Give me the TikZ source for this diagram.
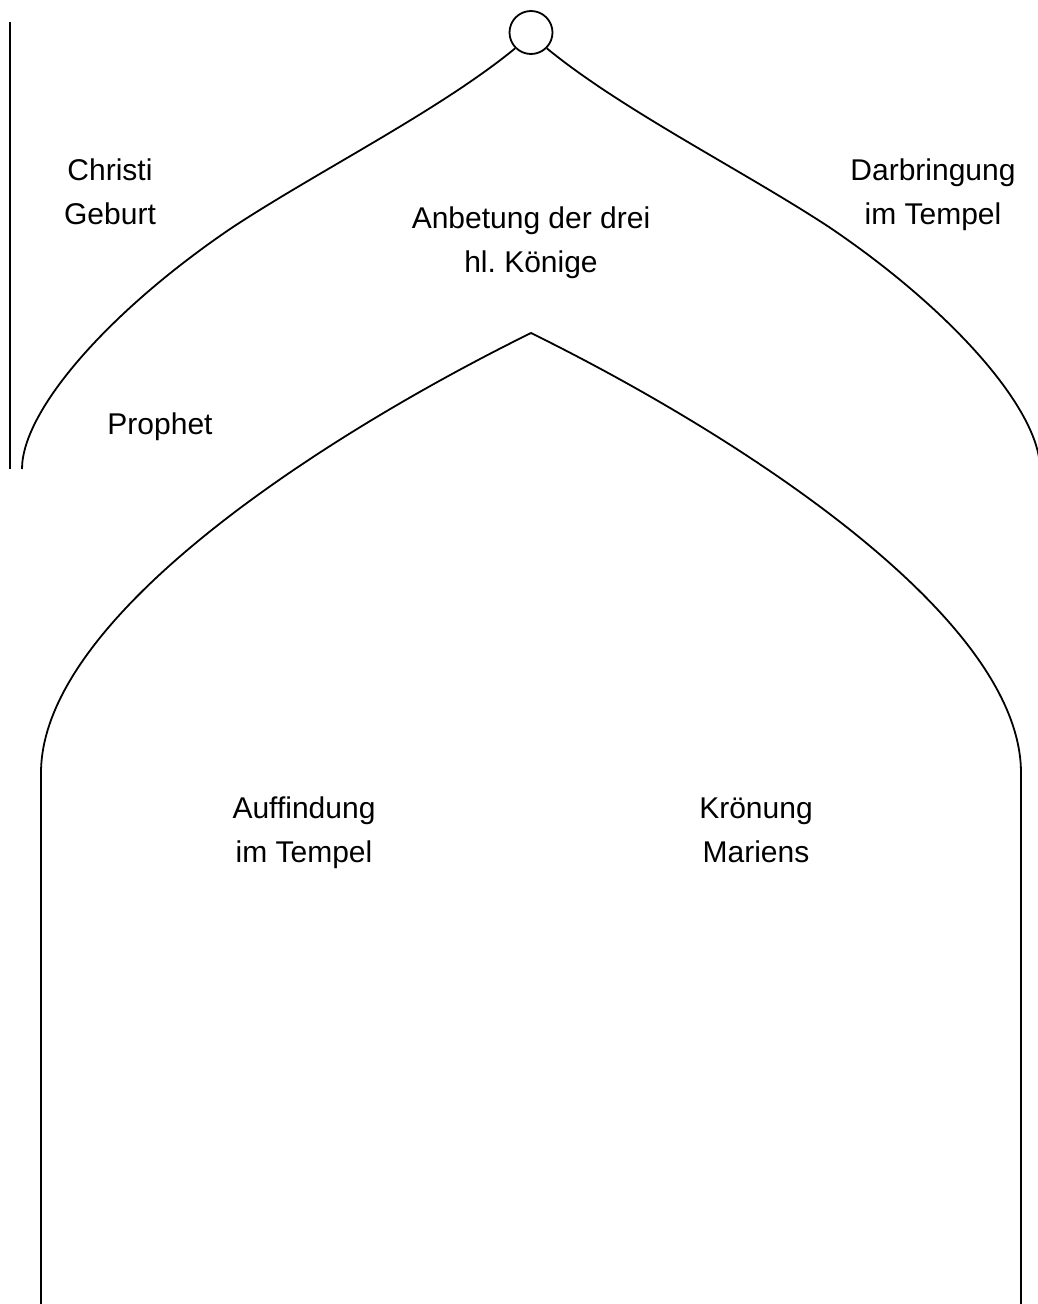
\documentclass[tikz,border=0pt]{standalone}
\usepackage{fontspec}
\setmainfont{Liberation Sans}
\usepackage{tikz}

\begin{document}
\begin{tikzpicture}[x=1pt,y=-1pt,line width=1.8pt,
  lbl/.style={align=center,inner sep=0pt,font=\fontsize{30}{44}\selectfont}]
  \useasboundingbox (0,0) rectangle (1037,1304);
  \node[draw,circle,minimum size=43pt,inner sep=0pt] (knob) at (531,32.5) {};
  \coordinate (ol) at (22,469);
  \coordinate (or) at (1040,469);
  \coordinate (apex) at (531,333);
  \coordinate (il) at (41,773);
  \coordinate (ir) at (1021,773);
  \coordinate (ilb) at (41,1304);
  \coordinate (irb) at (1021,1304);
  \coordinate (rt) at (10,22);
  \coordinate (rb) at (10,469);
  \draw (rt) -- (rb);
  \draw (knob.225) .. controls (440,110) and (320,170) .. (233,227)
    .. controls (110,310) and (22,410) .. (ol);
  \draw (knob.-45) .. controls (622,110) and (742,170) .. (829,227)
    .. controls (952,310) and (1040,410) .. (or);
  \draw (ilb) -- (il) .. controls (41,615) and (330,432) .. (apex)
    .. controls (732,432) and (1021,615) .. (ir) -- (irb);
  \node[lbl] (geburt) at (110,192) {Christi\\Geburt};
  \node[lbl] (anbetung) at (531,243) {Anbetung der drei\\hl.\ Könige};
  \node[lbl] (darbringung) at (933,195) {Darbringung\\im Tempel};
  \node[lbl] (prophet) at (160,427) {Prophet};
  \node[lbl] (auffindung) at (304,833) {Auffindung\\im Tempel};
  \node[lbl] (kroenung) at (756,830) {Krönung\\Mariens};
\end{tikzpicture}
\end{document}
